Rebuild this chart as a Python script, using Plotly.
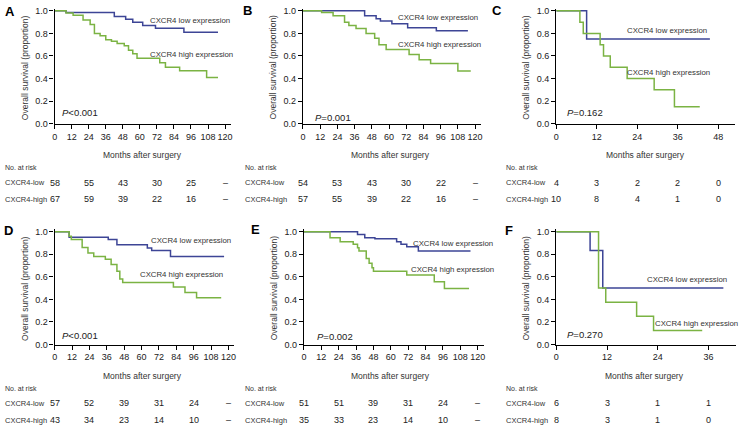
"""Kaplan-Meier overall survival curves by CXCR4 expression (panels A-F)."""

import plotly.graph_objects as go

W, H = 740, 430
FONT = "Arial, Liberation Sans, sans-serif"
BLUE = "#3d4596"
GREEN = "#7bb343"

# Survival step data (months, proportion surviving)
a_low_t = [0, 8, 42, 50, 55, 62, 71, 91, 115]
a_low_s = [1.0, 0.985, 0.95, 0.925, 0.90, 0.87, 0.845, 0.81, 0.81]
a_high_t = [0, 8, 13, 20, 25, 28, 32, 36, 40, 44, 49, 52, 55, 58, 74, 78, 88, 107, 115]
a_high_s = [1.0, 0.98, 0.96, 0.92, 0.88, 0.80, 0.78, 0.745, 0.73, 0.71, 0.69,
            0.65, 0.62, 0.58, 0.54, 0.50, 0.47, 0.41, 0.41]

b_low_t = [0, 43, 51, 54, 62, 73, 93, 115]
b_low_s = [1.0, 0.957, 0.93, 0.91, 0.886, 0.85, 0.823, 0.823]
b_high_t = [0, 13, 21, 29, 32, 37, 44, 50, 53, 58, 74, 81, 89, 108, 117]
b_high_s = [1.0, 0.986, 0.957, 0.90, 0.871, 0.843, 0.80, 0.757, 0.70, 0.657,
            0.614, 0.566, 0.534, 0.466, 0.466]

c_low_t = [0, 9, 45.5]
c_low_s = [1.0, 0.75, 0.75]
c_high_t = [0, 7, 8, 13, 14, 16, 21, 29, 35, 42.5]
c_high_s = [1.0, 0.9, 0.8, 0.7, 0.6, 0.5, 0.4, 0.3, 0.15, 0.15]

d_low_t = [0, 10, 37, 43, 64, 67, 80, 117]
d_low_s = [1.0, 0.95, 0.93, 0.885, 0.856, 0.833, 0.78, 0.78]
d_high_t = [0, 10, 11.5, 19, 23, 27, 35, 39, 43, 45, 47, 82, 90, 98, 115]
d_high_s = [1.0, 0.96, 0.93, 0.86, 0.81, 0.78, 0.755, 0.71, 0.65, 0.58, 0.55,
            0.51, 0.46, 0.415, 0.415]

e_low_t = [0, 37, 42, 49, 64, 67, 71, 79, 115]
e_low_s = [1.0, 0.976, 0.947, 0.937, 0.91, 0.888, 0.867, 0.828, 0.828]
e_high_t = [0, 18, 25, 34, 37, 38, 43, 45, 47, 48, 71, 90, 97, 114]
e_high_s = [1.0, 0.947, 0.91, 0.888, 0.858, 0.828, 0.763, 0.72, 0.68, 0.65,
            0.615, 0.556, 0.497, 0.497]

f_low_t = [0, 8, 11, 39.5]
f_low_s = [1.0, 0.833, 0.5, 0.5]
f_high_t = [0, 10, 11.7, 19, 23, 34.5]
f_high_s = [1.0, 0.5, 0.375, 0.25, 0.125, 0.125]

# Numbers at risk
risk_times_long = [0, 24, 48, 72, 96, 120]
risk_times_c = [0, 12, 24, 36, 48]
risk_times_f = [0, 12, 24, 36]
a_risk_low = ["58", "55", "43", "30", "25", "–"]
a_risk_high = ["67", "59", "39", "22", "16", "–"]
b_risk_low = ["54", "53", "43", "30", "22", "–"]
b_risk_high = ["57", "55", "39", "22", "16", "–"]
c_risk_low = ["4", "3", "2", "2", "0"]
c_risk_high = ["10", "8", "4", "1", "0"]
d_risk_low = ["57", "52", "39", "31", "24", "–"]
d_risk_high = ["43", "34", "23", "14", "10", "–"]
e_risk_low = ["51", "51", "39", "31", "24", "–"]
e_risk_high = ["35", "33", "23", "14", "10", "–"]
f_risk_low = ["6", "3", "1", "1"]
f_risk_high = ["8", "3", "1", "0"]

ticks_long = list(range(0, 121, 12))
ticks_c = [0, 12, 24, 36, 48]
ticks_f = [0, 12, 24, 36]
p_values = ["<0.001", "=0.001", "=0.162", "<0.001", "=0.002", "=0.270"]

# Layout in pixels: x of month 0, px per month, x max, y of 1.0, y of 0.0,
# text positions
panels = [
    dict(letter="A", low=(a_low_t, a_low_s), high=(a_high_t, a_high_s),
         x0=52, ppm=1.43, xmax=124, ytop=8, ybot=123, ticks=ticks_long,
         rt=risk_times_long, rlow=a_risk_low, rhigh=a_risk_high,
         lab_x=1, let_xy=(1, 9), low_xy=(147, 18), high_xy=(147, 52),
         p_xy=(58, 112), title_x=140),
    dict(letter="B", low=(b_low_t, b_low_s), high=(b_high_t, b_high_s),
         x0=302, ppm=1.444, xmax=124, ytop=8, ybot=123, ticks=ticks_long,
         rt=risk_times_long, rlow=b_risk_low, rhigh=b_risk_high,
         lab_x=243, let_xy=(241, 8), low_xy=(397, 15), high_xy=(397, 42),
         p_xy=(313, 117), title_x=390),
    dict(letter="C", low=(c_low_t, c_low_s), high=(c_high_t, c_high_s),
         x0=557, ppm=3.40, xmax=53, ytop=8, ybot=123, ticks=ticks_c,
         rt=risk_times_c, rlow=c_risk_low, rhigh=c_risk_high,
         lab_x=505, let_xy=(491, 8), low_xy=(627, 28), high_xy=(627, 71),
         p_xy=(567, 112), title_x=647),
    dict(letter="D", low=(d_low_t, d_low_s), high=(d_high_t, d_high_s),
         x0=52, ppm=1.458, xmax=124, ytop=233, ybot=348, ticks=ticks_long,
         rt=risk_times_long, rlow=d_risk_low, rhigh=d_risk_high,
         lab_x=1, let_xy=(0, 232), low_xy=(148, 242), high_xy=(137, 277),
         p_xy=(58, 339), title_x=140),
    dict(letter="E", low=(e_low_t, e_low_s), high=(e_high_t, e_high_s),
         x0=303, ppm=1.458, xmax=124, ytop=233, ybot=348, ticks=ticks_long,
         rt=risk_times_long, rlow=e_risk_low, rhigh=e_risk_high,
         lab_x=243, let_xy=(249, 231), low_xy=(412, 245), high_xy=(410, 272),
         p_xy=(315, 340), title_x=390),
    dict(letter="F", low=(f_low_t, f_low_s), high=(f_high_t, f_high_s),
         x0=557, ppm=4.26, xmax=42.5, ytop=233, ybot=348, ticks=ticks_f,
         rt=risk_times_f, rlow=f_risk_low, rhigh=f_risk_high,
         lab_x=505, let_xy=(504, 232), low_xy=(647, 282), high_xy=(655, 327),
         p_xy=(567, 338), title_x=646),
]

YMAX = 1.02


def px_x(p):
    return min(max(p / W, 0.0), 1.0)


def px_y(p):
    return min(max(1 - p / H, 0.0), 1.0)


def text(x, y, s, size, xanchor="left", color="#333", **kw):
    return dict(x=x / W, y=1 - y / H, xref="paper", yref="paper", text=s,
                showarrow=False, xanchor=xanchor, yanchor="middle", borderpad=0,
                font=dict(family=FONT, size=size, color=color), **kw)


fig = go.Figure()
annotations = []

for i, p in enumerate(panels):
    n = "" if i == 0 else str(i + 1)
    xa, ya = "x" + n, "y" + n

    for (t, s), color in ((p["low"], BLUE), (p["high"], GREEN)):
        fig.add_trace(
            go.Scatter(x=t, y=s, mode="lines",
                       line=dict(color=color, width=1.5, shape="hv"),
                       xaxis=xa, yaxis=ya, showlegend=False, hoverinfo="skip")
        )

    top_px = p["ybot"] - YMAX * (p["ybot"] - p["ytop"])
    axis_common = dict(showline=True, linecolor="black", linewidth=1.3, ticks="outside",
                       ticklen=4, tickwidth=1.2, tickcolor="black", showgrid=False,
                       zeroline=False, tickangle=0,
                       tickfont=dict(family=FONT, size=9, color="#222"))
    fig.update_layout({
        "xaxis" + n: dict(domain=[px_x(p["x0"]), px_x(p["x0"] + p["xmax"] * p["ppm"])],
                          range=[0, p["xmax"]], tickvals=p["ticks"], anchor=ya,
                          **axis_common),
        "yaxis" + n: dict(domain=[px_y(p["ybot"]), px_y(top_px)], range=[0, YMAX],
                          tickvals=[0, 0.2, 0.4, 0.6, 0.8, 1.0], tickformat=".1f",
                          anchor=xa, **axis_common),
    })

    mid_y = (p["ytop"] + p["ybot"]) / 2
    annotations += [
        text(*p["let_xy"], "<b>" + p["letter"] + "</b>", 13, color="black"),
        text(p["x0"] - 30, mid_y, "Overall survival (proportion)", 8.5,
             xanchor="center", textangle=-90),
        text(p["title_x"], p["ybot"] + 32, "Months after surgery", 8.5, xanchor="center"),
        text(*p["low_xy"], "CXCR4 low expression", 7.8),
        text(*p["high_xy"], "CXCR4 high expression", 7.8),
        text(*p["p_xy"], "<i>P</i>" + p_values[i], 9.5, color="#222"),
        text(p["lab_x"], p["ybot"] + 45, "No. at risk", 7),
        text(p["lab_x"], p["ybot"] + 60, "CXCR4-low", 7.5),
        text(p["lab_x"], p["ybot"] + 77, "CXCR4-high", 7.5),
    ]
    for row_y, vals in ((p["ybot"] + 60, p["rlow"]), (p["ybot"] + 77, p["rhigh"])):
        for t, v in zip(p["rt"], vals):
            annotations.append(dict(x=t, y=1 - row_y / H, xref=xa, yref="paper", text=v,
                                    showarrow=False, xanchor="center", yanchor="middle",
                                    font=dict(family=FONT, size=9, color="#222")))

fig.update_layout(
    width=W,
    height=H,
    margin=dict(l=0, r=0, t=0, b=0),
    paper_bgcolor="white",
    plot_bgcolor="white",
    annotations=annotations,
    showlegend=False,
)

# the page body has a default 8px margin; drop it so the figure fills the window
fig.write_html("out.html", config={"displayModeBar": False},
               post_script="document.body.style.margin = '0px';")
